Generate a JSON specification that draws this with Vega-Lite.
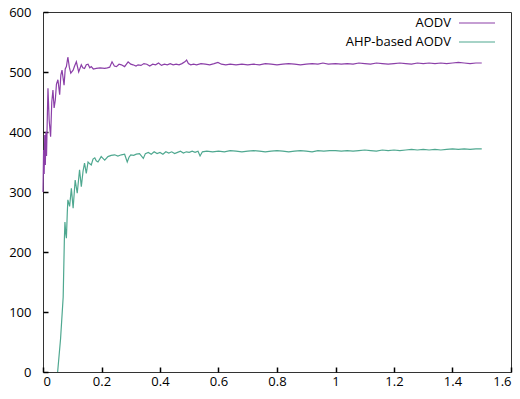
{
  "$schema": "https://vega.github.io/schema/vega-lite/v6.json",
  "width": 468,
  "height": 360,
  "autosize": "none",
  "padding": {"left": 43, "top": 12, "right": 9, "bottom": 27},
  "config": {
    "view": {"stroke": "#333", "strokeWidth": 1},
    "font": "Open Sans",
    "axis": {
      "grid": false,
      "labelFont": "Open Sans",
      "labelFontSize": 13,
      "labelColor": "#000",
      "title": null
    }
  },
  "data": {
    "values": [
      {"x":0.000,"y":300,"s":"AODV"},{"x":0.002,"y":370,"s":"AODV"},{"x":0.004,"y":330,"s":"AODV"},{"x":0.006,"y":395,"s":"AODV"},{"x":0.008,"y":345,"s":"AODV"},{"x":0.010,"y":400,"s":"AODV"},{"x":0.012,"y":360,"s":"AODV"},{"x":0.015,"y":430,"s":"AODV"},{"x":0.017,"y":473,"s":"AODV"},{"x":0.021,"y":420,"s":"AODV"},{"x":0.026,"y":392,"s":"AODV"},{"x":0.030,"y":450,"s":"AODV"},{"x":0.034,"y":470,"s":"AODV"},{"x":0.038,"y":440,"s":"AODV"},{"x":0.042,"y":453,"s":"AODV"},{"x":0.046,"y":480,"s":"AODV"},{"x":0.051,"y":487,"s":"AODV"},{"x":0.057,"y":462,"s":"AODV"},{"x":0.061,"y":495,"s":"AODV"},{"x":0.065,"y":503,"s":"AODV"},{"x":0.072,"y":478,"s":"AODV"},{"x":0.076,"y":505,"s":"AODV"},{"x":0.080,"y":509,"s":"AODV"},{"x":0.085,"y":525,"s":"AODV"},{"x":0.090,"y":508,"s":"AODV"},{"x":0.095,"y":498,"s":"AODV"},{"x":0.103,"y":503,"s":"AODV"},{"x":0.108,"y":510,"s":"AODV"},{"x":0.114,"y":517,"s":"AODV"},{"x":0.122,"y":500,"s":"AODV"},{"x":0.131,"y":512,"s":"AODV"},{"x":0.136,"y":507,"s":"AODV"},{"x":0.142,"y":506,"s":"AODV"},{"x":0.148,"y":512,"s":"AODV"},{"x":0.154,"y":513,"s":"AODV"},{"x":0.160,"y":507,"s":"AODV"},{"x":0.165,"y":509,"s":"AODV"},{"x":0.172,"y":505,"s":"AODV"},{"x":0.182,"y":506,"s":"AODV"},{"x":0.195,"y":507,"s":"AODV"},{"x":0.211,"y":506,"s":"AODV"},{"x":0.220,"y":507,"s":"AODV"},{"x":0.228,"y":508,"s":"AODV"},{"x":0.236,"y":517,"s":"AODV"},{"x":0.244,"y":510,"s":"AODV"},{"x":0.251,"y":509,"s":"AODV"},{"x":0.260,"y":513,"s":"AODV"},{"x":0.268,"y":512,"s":"AODV"},{"x":0.279,"y":509,"s":"AODV"},{"x":0.291,"y":517,"s":"AODV"},{"x":0.300,"y":513,"s":"AODV"},{"x":0.308,"y":512,"s":"AODV"},{"x":0.318,"y":510,"s":"AODV"},{"x":0.325,"y":512,"s":"AODV"},{"x":0.335,"y":511,"s":"AODV"},{"x":0.345,"y":514,"s":"AODV"},{"x":0.355,"y":513,"s":"AODV"},{"x":0.365,"y":510,"s":"AODV"},{"x":0.375,"y":513,"s":"AODV"},{"x":0.385,"y":512,"s":"AODV"},{"x":0.395,"y":515,"s":"AODV"},{"x":0.405,"y":511,"s":"AODV"},{"x":0.415,"y":513,"s":"AODV"},{"x":0.425,"y":512,"s":"AODV"},{"x":0.435,"y":514,"s":"AODV"},{"x":0.445,"y":512,"s":"AODV"},{"x":0.455,"y":513,"s":"AODV"},{"x":0.465,"y":512,"s":"AODV"},{"x":0.475,"y":514,"s":"AODV"},{"x":0.485,"y":517,"s":"AODV"},{"x":0.491,"y":520,"s":"AODV"},{"x":0.497,"y":514,"s":"AODV"},{"x":0.505,"y":512,"s":"AODV"},{"x":0.515,"y":513,"s":"AODV"},{"x":0.525,"y":512,"s":"AODV"},{"x":0.540,"y":514,"s":"AODV"},{"x":0.555,"y":513,"s":"AODV"},{"x":0.570,"y":512,"s":"AODV"},{"x":0.585,"y":514,"s":"AODV"},{"x":0.598,"y":516,"s":"AODV"},{"x":0.610,"y":513,"s":"AODV"},{"x":0.625,"y":512,"s":"AODV"},{"x":0.640,"y":513,"s":"AODV"},{"x":0.660,"y":512,"s":"AODV"},{"x":0.680,"y":513,"s":"AODV"},{"x":0.700,"y":512,"s":"AODV"},{"x":0.720,"y":513,"s":"AODV"},{"x":0.740,"y":512,"s":"AODV"},{"x":0.760,"y":514,"s":"AODV"},{"x":0.780,"y":513,"s":"AODV"},{"x":0.800,"y":512,"s":"AODV"},{"x":0.820,"y":513,"s":"AODV"},{"x":0.840,"y":514,"s":"AODV"},{"x":0.860,"y":513,"s":"AODV"},{"x":0.880,"y":512,"s":"AODV"},{"x":0.900,"y":513,"s":"AODV"},{"x":0.920,"y":514,"s":"AODV"},{"x":0.940,"y":513,"s":"AODV"},{"x":0.957,"y":515,"s":"AODV"},{"x":0.975,"y":513,"s":"AODV"},{"x":1.000,"y":514,"s":"AODV"},{"x":1.020,"y":513,"s":"AODV"},{"x":1.040,"y":514,"s":"AODV"},{"x":1.060,"y":513,"s":"AODV"},{"x":1.080,"y":515,"s":"AODV"},{"x":1.100,"y":514,"s":"AODV"},{"x":1.120,"y":513,"s":"AODV"},{"x":1.140,"y":515,"s":"AODV"},{"x":1.160,"y":514,"s":"AODV"},{"x":1.180,"y":513,"s":"AODV"},{"x":1.200,"y":514,"s":"AODV"},{"x":1.220,"y":515,"s":"AODV"},{"x":1.240,"y":514,"s":"AODV"},{"x":1.260,"y":513,"s":"AODV"},{"x":1.280,"y":515,"s":"AODV"},{"x":1.300,"y":514,"s":"AODV"},{"x":1.320,"y":515,"s":"AODV"},{"x":1.340,"y":514,"s":"AODV"},{"x":1.360,"y":515,"s":"AODV"},{"x":1.380,"y":514,"s":"AODV"},{"x":1.400,"y":515,"s":"AODV"},{"x":1.420,"y":516,"s":"AODV"},{"x":1.440,"y":515,"s":"AODV"},{"x":1.460,"y":514,"s":"AODV"},{"x":1.480,"y":515,"s":"AODV"},{"x":1.500,"y":515,"s":"AODV"},
      {"x":0.050,"y":0,"s":"AHP-based AODV"},{"x":0.060,"y":55,"s":"AHP-based AODV"},{"x":0.069,"y":125,"s":"AHP-based AODV"},{"x":0.073,"y":220,"s":"AHP-based AODV"},{"x":0.075,"y":250,"s":"AHP-based AODV"},{"x":0.078,"y":230,"s":"AHP-based AODV"},{"x":0.080,"y":223,"s":"AHP-based AODV"},{"x":0.083,"y":265,"s":"AHP-based AODV"},{"x":0.085,"y":287,"s":"AHP-based AODV"},{"x":0.091,"y":276,"s":"AHP-based AODV"},{"x":0.097,"y":306,"s":"AHP-based AODV"},{"x":0.103,"y":273,"s":"AHP-based AODV"},{"x":0.110,"y":320,"s":"AHP-based AODV"},{"x":0.117,"y":298,"s":"AHP-based AODV"},{"x":0.125,"y":337,"s":"AHP-based AODV"},{"x":0.131,"y":309,"s":"AHP-based AODV"},{"x":0.137,"y":335,"s":"AHP-based AODV"},{"x":0.142,"y":348,"s":"AHP-based AODV"},{"x":0.148,"y":331,"s":"AHP-based AODV"},{"x":0.154,"y":350,"s":"AHP-based AODV"},{"x":0.160,"y":347,"s":"AHP-based AODV"},{"x":0.165,"y":345,"s":"AHP-based AODV"},{"x":0.171,"y":355,"s":"AHP-based AODV"},{"x":0.177,"y":357,"s":"AHP-based AODV"},{"x":0.182,"y":352,"s":"AHP-based AODV"},{"x":0.188,"y":350,"s":"AHP-based AODV"},{"x":0.199,"y":359,"s":"AHP-based AODV"},{"x":0.205,"y":356,"s":"AHP-based AODV"},{"x":0.211,"y":353,"s":"AHP-based AODV"},{"x":0.222,"y":359,"s":"AHP-based AODV"},{"x":0.233,"y":361,"s":"AHP-based AODV"},{"x":0.245,"y":362,"s":"AHP-based AODV"},{"x":0.256,"y":360,"s":"AHP-based AODV"},{"x":0.268,"y":362,"s":"AHP-based AODV"},{"x":0.279,"y":363,"s":"AHP-based AODV"},{"x":0.288,"y":350,"s":"AHP-based AODV"},{"x":0.294,"y":358,"s":"AHP-based AODV"},{"x":0.300,"y":362,"s":"AHP-based AODV"},{"x":0.310,"y":361,"s":"AHP-based AODV"},{"x":0.319,"y":363,"s":"AHP-based AODV"},{"x":0.330,"y":364,"s":"AHP-based AODV"},{"x":0.343,"y":356,"s":"AHP-based AODV"},{"x":0.350,"y":364,"s":"AHP-based AODV"},{"x":0.360,"y":366,"s":"AHP-based AODV"},{"x":0.370,"y":363,"s":"AHP-based AODV"},{"x":0.380,"y":367,"s":"AHP-based AODV"},{"x":0.390,"y":364,"s":"AHP-based AODV"},{"x":0.400,"y":366,"s":"AHP-based AODV"},{"x":0.410,"y":363,"s":"AHP-based AODV"},{"x":0.420,"y":367,"s":"AHP-based AODV"},{"x":0.430,"y":365,"s":"AHP-based AODV"},{"x":0.440,"y":367,"s":"AHP-based AODV"},{"x":0.450,"y":364,"s":"AHP-based AODV"},{"x":0.460,"y":366,"s":"AHP-based AODV"},{"x":0.470,"y":368,"s":"AHP-based AODV"},{"x":0.480,"y":365,"s":"AHP-based AODV"},{"x":0.490,"y":367,"s":"AHP-based AODV"},{"x":0.500,"y":366,"s":"AHP-based AODV"},{"x":0.510,"y":368,"s":"AHP-based AODV"},{"x":0.520,"y":366,"s":"AHP-based AODV"},{"x":0.530,"y":368,"s":"AHP-based AODV"},{"x":0.537,"y":360,"s":"AHP-based AODV"},{"x":0.545,"y":367,"s":"AHP-based AODV"},{"x":0.560,"y":368,"s":"AHP-based AODV"},{"x":0.580,"y":367,"s":"AHP-based AODV"},{"x":0.600,"y":368,"s":"AHP-based AODV"},{"x":0.620,"y":367,"s":"AHP-based AODV"},{"x":0.640,"y":369,"s":"AHP-based AODV"},{"x":0.660,"y":368,"s":"AHP-based AODV"},{"x":0.680,"y":367,"s":"AHP-based AODV"},{"x":0.700,"y":368,"s":"AHP-based AODV"},{"x":0.720,"y":369,"s":"AHP-based AODV"},{"x":0.740,"y":368,"s":"AHP-based AODV"},{"x":0.760,"y":367,"s":"AHP-based AODV"},{"x":0.780,"y":368,"s":"AHP-based AODV"},{"x":0.800,"y":369,"s":"AHP-based AODV"},{"x":0.820,"y":368,"s":"AHP-based AODV"},{"x":0.840,"y":367,"s":"AHP-based AODV"},{"x":0.860,"y":368,"s":"AHP-based AODV"},{"x":0.880,"y":369,"s":"AHP-based AODV"},{"x":0.900,"y":368,"s":"AHP-based AODV"},{"x":0.920,"y":367,"s":"AHP-based AODV"},{"x":0.940,"y":369,"s":"AHP-based AODV"},{"x":0.960,"y":368,"s":"AHP-based AODV"},{"x":0.980,"y":369,"s":"AHP-based AODV"},{"x":1.000,"y":369,"s":"AHP-based AODV"},{"x":1.020,"y":368,"s":"AHP-based AODV"},{"x":1.040,"y":369,"s":"AHP-based AODV"},{"x":1.060,"y":368,"s":"AHP-based AODV"},{"x":1.080,"y":369,"s":"AHP-based AODV"},{"x":1.100,"y":370,"s":"AHP-based AODV"},{"x":1.120,"y":369,"s":"AHP-based AODV"},{"x":1.140,"y":368,"s":"AHP-based AODV"},{"x":1.160,"y":370,"s":"AHP-based AODV"},{"x":1.180,"y":369,"s":"AHP-based AODV"},{"x":1.200,"y":370,"s":"AHP-based AODV"},{"x":1.220,"y":369,"s":"AHP-based AODV"},{"x":1.240,"y":370,"s":"AHP-based AODV"},{"x":1.260,"y":371,"s":"AHP-based AODV"},{"x":1.280,"y":370,"s":"AHP-based AODV"},{"x":1.300,"y":371,"s":"AHP-based AODV"},{"x":1.320,"y":370,"s":"AHP-based AODV"},{"x":1.340,"y":371,"s":"AHP-based AODV"},{"x":1.360,"y":370,"s":"AHP-based AODV"},{"x":1.380,"y":371,"s":"AHP-based AODV"},{"x":1.400,"y":372,"s":"AHP-based AODV"},{"x":1.420,"y":371,"s":"AHP-based AODV"},{"x":1.440,"y":372,"s":"AHP-based AODV"},{"x":1.460,"y":371,"s":"AHP-based AODV"},{"x":1.480,"y":372,"s":"AHP-based AODV"},{"x":1.500,"y":372,"s":"AHP-based AODV"}
    ]
  },
  "mark": {"type": "line", "strokeWidth": 1.2, "interpolate": "linear"},
  "encoding": {
    "x": {"field": "x", "type": "quantitative", "scale": {"domain": [0, 1.6], "nice": false},
          "axis": {"orient": "bottom", "values": [0,0.2,0.4,0.6,0.8,1,1.2,1.4,1.6], "format": "~g",
                   "domain": false, "ticks": true, "tickSize": 5, "tickColor": "#000", "tickWidth": 1.5, "offset": -5, "labelPadding": 3}},
    "y": {"field": "y", "type": "quantitative", "scale": {"domain": [0, 600], "nice": false},
          "axis": {"orient": "left", "values": [0,100,200,300,400,500,600],
                   "domain": false, "ticks": true, "tickSize": 5, "tickColor": "#000", "tickWidth": 1.5, "offset": -5, "labelPadding": 12}},
    "color": {"field": "s", "type": "nominal",
              "scale": {"domain": ["AODV", "AHP-based AODV"], "range": ["#8b3fa8", "#4fa890"]},
              "legend": {"orient": "none", "legendX": 427, "legendY": 4, "title": null,
                         "direction": "vertical", "columns": 1,
                         "symbolType": "M-3,0H3", "symbolSize": 144, "symbolStrokeWidth": 1.2,
                         "symbolFillColor": "transparent",
                         "labelAlign": "right", "labelOffset": -33, "labelFontSize": 13, "labelFont": "Open Sans",
                         "labelColor": "#000", "rowPadding": 5}}
  }
}
